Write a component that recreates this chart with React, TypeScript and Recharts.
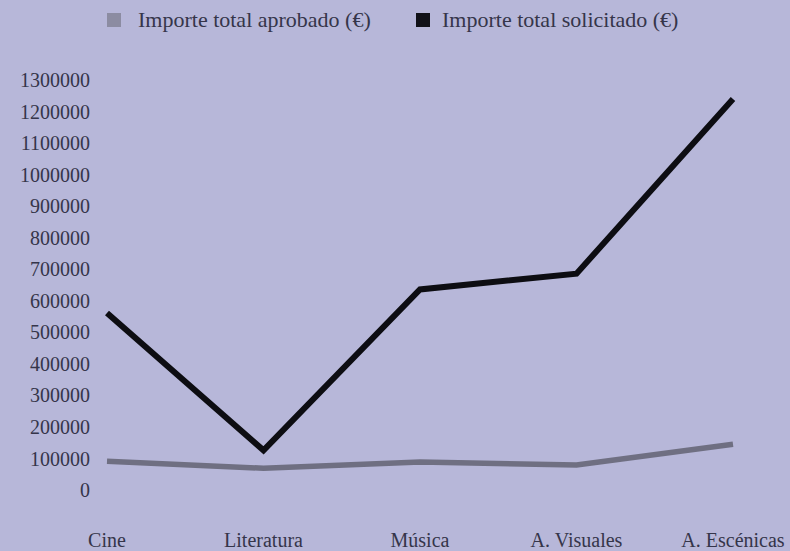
import { LineChart, Line, XAxis, YAxis } from "recharts";

const categories = ["Cine", "Literatura", "Música", "A. Visuales", "A. Escénicas"];
const aprobado = [91000, 69000, 89000, 79000, 145000];
const solicitado = [561000, 126000, 636000, 686000, 1240000];
const yTicks = [0, 100000, 200000, 300000, 400000, 500000, 600000, 700000, 800000, 900000, 1000000, 1100000, 1200000, 1300000];

const data = categories.map((name, i) => ({
  name,
  aprobado: aprobado[i],
  solicitado: solicitado[i],
}));

const BG = "#b7b7d9";
const TEXT = "#35354a";
const FONT = "'Liberation Serif', 'DejaVu Serif', serif";

const App = () => {
  return (
    <div style={{ position: "absolute", left: 0, top: 0, width: 790, height: 551, background: BG, fontFamily: FONT }}>
      {/* legend */}
      <div style={{ position: "absolute", top: 0, left: 0, width: 790, height: 45, fontSize: 22, color: TEXT, lineHeight: "22px" }}>
        <div style={{ position: "absolute", left: 107, top: 13, width: 14, height: 14, background: "#8c8ca2" }} />
        <span style={{ position: "absolute", left: 138, top: 9, whiteSpace: "nowrap" }}>Importe total aprobado (€)</span>
        <div style={{ position: "absolute", left: 416, top: 13, width: 14, height: 14, background: "#111118" }} />
        <span style={{ position: "absolute", left: 442, top: 9, whiteSpace: "nowrap" }}>Importe total solicitado (€)</span>
      </div>
      <LineChart width={790} height={551} data={data} margin={{ top: 80, right: 57, left: 0, bottom: 0 }}>
        <XAxis
          dataKey="name"
          axisLine={false}
          tickLine={false}
          tickSize={0}
          tickMargin={43}
          height={61}
          interval={0}
          tick={{ fill: TEXT, fontSize: 20, fontFamily: FONT }}
        />
        <YAxis
          domain={[0, 1300000]}
          ticks={yTicks}
          axisLine={false}
          tickLine={false}
          tickSize={0}
          tickMargin={17}
          width={107}
          interval={0}
          tick={{ fill: TEXT, fontSize: 20, fontFamily: FONT }}
        />
        <Line
          dataKey="aprobado"
          stroke="#6f6f82"
          strokeWidth={5.5}
          dot={false}
          isAnimationActive={false}
        />
        <Line
          dataKey="solicitado"
          stroke="#0d0d12"
          strokeWidth={6}
          dot={false}
          isAnimationActive={false}
        />
      </LineChart>
    </div>
  );
};

export default App;
